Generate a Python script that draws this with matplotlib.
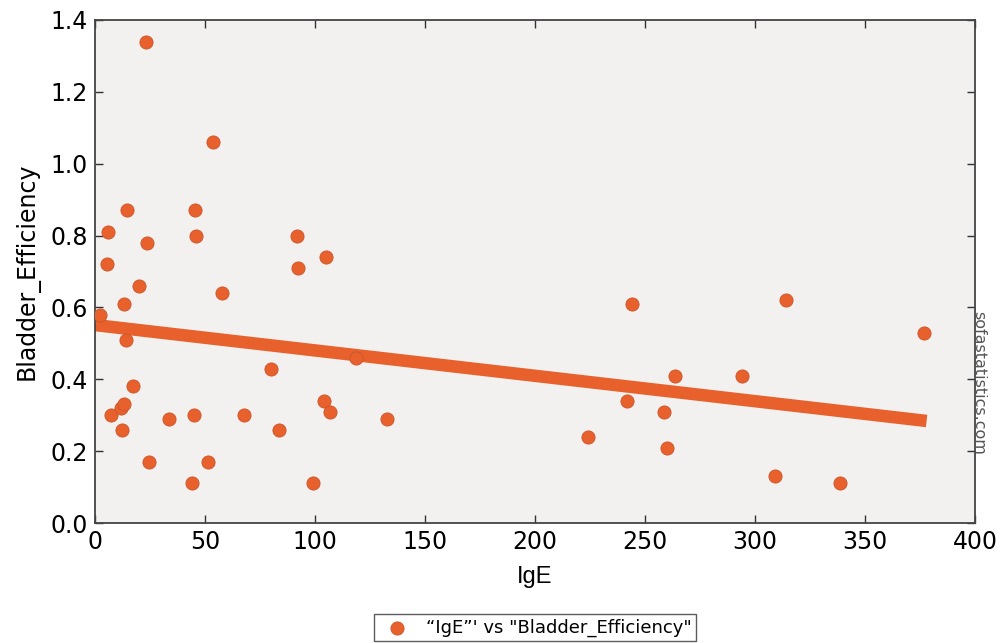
import numpy as np
import matplotlib
matplotlib.use("Agg")
import matplotlib.pyplot as plt

# data
ige = [2.3, 5.9, 5.5, 7.3, 14.5, 13.2, 14, 20, 17.3, 11.8, 13, 12.3,
       23.2, 23.6, 24.5, 33.6, 44, 45, 45.5, 46, 51.4, 53.6, 57.7, 67.7,
       80, 83.6, 91.8, 92.3, 99, 104, 105, 107, 118.6, 132.7,
       224, 242, 244, 258.6, 260, 263.6, 294, 309, 314, 338.6, 376.8]
bladder_eff = [0.58, 0.81, 0.72, 0.30, 0.87, 0.61, 0.51, 0.66, 0.38, 0.32, 0.33, 0.26,
               1.34, 0.78, 0.17, 0.29, 0.11, 0.30, 0.87, 0.80, 0.17, 1.06, 0.64, 0.30,
               0.43, 0.26, 0.80, 0.71, 0.11, 0.34, 0.74, 0.31, 0.46, 0.29,
               0.24, 0.34, 0.61, 0.31, 0.21, 0.41, 0.41, 0.13, 0.62, 0.11, 0.53]
trend_x = [0, 378]
trend_y = [0.551, 0.284]

x_ticks = [0, 50, 100, 150, 200, 250, 300, 350, 400]
y_ticks = [0.0, 0.2, 0.4, 0.6, 0.8, 1.0, 1.2, 1.4]

orange = "#e8602c"

fig = plt.figure(figsize=(10, 6.43), dpi=100)
ax = fig.add_axes([0.095, 0.1866, 0.88, 0.7823])
ax.set_facecolor("#f2f1f0")

ax.scatter(ige, bladder_eff, s=90, color=orange, edgecolors="#c9552a", linewidths=0.6,
           zorder=3, label='\u201cIgE\u201d\' vs "Bladder_Efficiency"')
ax.plot(trend_x, trend_y, color=orange, lw=9, solid_capstyle="butt", zorder=2)

ax.set_xlim(0, 400)
ax.set_ylim(0, 1.4)
ax.set_xticks(x_ticks)
ax.set_yticks(y_ticks)
ax.set_yticklabels([f"{v:.1f}" for v in y_ticks])
ax.tick_params(direction="in", length=6, width=1, top=True, right=True,
               labelsize=17, pad=5, color="#333333")
for s in ax.spines.values():
    s.set_color("#444444")
    s.set_linewidth(1.3)

ax.set_xlabel("IgE", fontsize=17, family="Liberation Sans", labelpad=9)
ax.set_ylabel("Bladder_Efficiency", fontsize=17, labelpad=8)

fig.text(0.979, 0.405, "sofastatistics.com", rotation=-90, fontsize=11.5,
         color="#555555", ha="center", va="center")

leg = fig.legend(loc="center", bbox_to_anchor=(0.535, 0.024), fontsize=13,
                 frameon=True, fancybox=False, edgecolor="#333333",
                 handletextpad=0.6, borderpad=0.25, scatterpoints=1)

fig.savefig("out.png", dpi=100)
